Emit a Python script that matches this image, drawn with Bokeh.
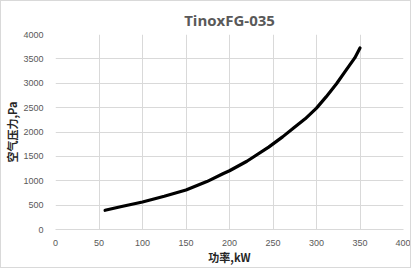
from bokeh.plotting import figure
from bokeh.models import Range1d, FixedTicker
from bokeh.embed import file_html
from bokeh.resources import INLINE

# data
power_kw = [57, 76, 100, 125, 150, 174, 193, 200, 220, 245, 261, 274, 287, 300, 311, 323, 334, 344, 350]
pressure_pa = [394, 472, 565, 682, 810, 983, 1149, 1205, 1400, 1690, 1900, 2087, 2270, 2490, 2720, 2990, 3270, 3520, 3725]
x_ticks = [0, 50, 100, 150, 200, 250, 300, 350, 400]
y_ticks = [0, 500, 1000, 1500, 2000, 2500, 3000, 3500, 4000]
title_text = "TinoxFG-035"
x_label = "功率,kW"
y_label = "空气压力,Pa"

grey = "#595959"
grid = "#d9d9d9"

p = figure(output_backend="svg", toolbar_location=None,
           frame_width=348, frame_height=195,
           min_border_left=48, min_border_right=7,
           min_border_top=33, min_border_bottom=20,
           x_range=Range1d(0, 400), y_range=Range1d(0, 4000),
           background_fill_color="white", border_fill_color="white")
p.outline_line_color = None

p.title.text = title_text
p.title.align = "center"
p.title.text_font = "Open Sans"
p.title.text_font_size = "15px"
p.title.text_font_style = "bold"
p.title.text_color = grey
p.title.offset = 0
p.title.standoff = 10

for ax in (p.xaxis[0], p.yaxis[0]):
    ax.major_tick_line_color = None
    ax.minor_tick_line_color = None
    ax.major_label_text_font = "Liberation Sans"
    ax.major_label_text_font_size = "9px"
    ax.major_label_text_color = grey
    ax.axis_label_text_font = "Noto Sans CJK SC"
    ax.axis_label_text_font_size = "11px"
    ax.axis_label_text_font_style = "bold"
    ax.axis_label_text_color = "#262626"

p.xaxis.ticker = FixedTicker(ticks=x_ticks)
p.yaxis.ticker = FixedTicker(ticks=y_ticks)
p.xaxis.axis_line_color = grid
p.yaxis.axis_line_color = None
p.xaxis.major_label_standoff = 4
p.yaxis.major_label_standoff = 6
p.xaxis.axis_label = x_label
p.yaxis.axis_label = y_label
p.xaxis.axis_label_standoff = 0
p.yaxis.axis_label_standoff = 0

p.xgrid.ticker = FixedTicker(ticks=x_ticks)
p.ygrid.ticker = FixedTicker(ticks=y_ticks)
p.grid.grid_line_color = grid
p.grid.grid_line_width = 1

p.line(power_kw, pressure_pa, line_color="black", line_width=3.2,
       line_cap="round", line_join="round")

p.styles = {"border": "1px solid #d9d9d9"}

open("out.html", "w").write(file_html(p, INLINE))
